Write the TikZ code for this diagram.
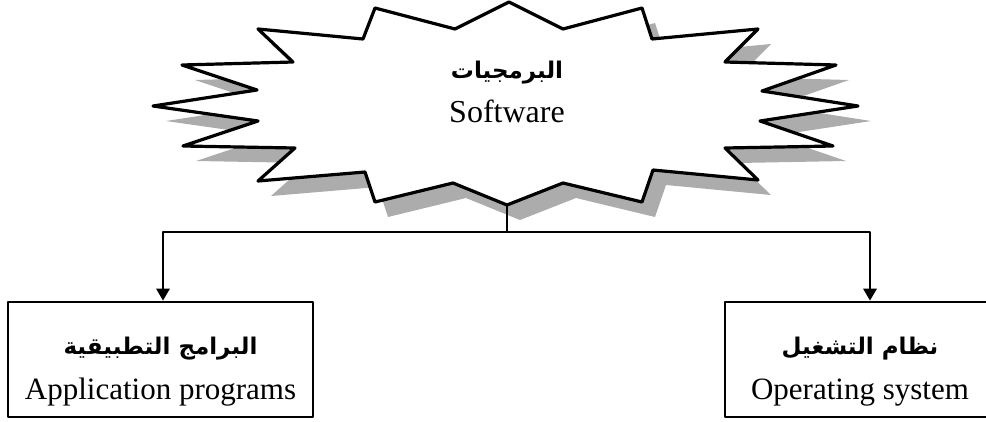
\documentclass[tikz,border=0pt]{standalone}
\usepackage{fontspec}
\setmainfont{Liberation Serif}
\newfontfamily\arabicfont[Script=Arabic]{DejaVu Sans}
\TeXXeTstate=1
\usetikzlibrary{arrows.meta}
\tikzset{>={Triangle[width=13pt,length=12pt]}}
\tikzset{
  box/.style={draw, line width=2.6pt, minimum height=115pt, align=center, inner sep=4pt,
    font=\fontsize{31}{45}\selectfont},
  link/.style={line width=2.8pt},
}
\newcommand{\artext}[1]{{\arabicfont\bfseries\fontsize{23}{26}\selectfont\beginR #1\endR}}
\newcommand{\softstar}{(509,2) -- (563,29) -- (642,8) -- (652,39) -- (758,29) -- (725,62)
  -- (836,65) -- (762,91) -- (858,106) -- (760,121) -- (833,146) -- (725,148)
  -- (758,180) -- (653,170) -- (642,202) -- (563,183) -- (507,205) -- (453,183)
  -- (375,202) -- (365,172) -- (258,181) -- (295,148) -- (183,146) -- (258,121)
  -- (153,106) -- (257,90) -- (182,65) -- (293,62) -- (258,29) -- (363,39)
  -- (375,8) -- (455,29) -- cycle}

\begin{document}
\begin{tikzpicture}[x=1pt, y=-1pt, line join=round]
    \useasboundingbox (0,0) rectangle (986,421);
    \clip (0,0) rectangle (986,421);

    % star with its shadow
    \fill[gray!65, shift={(13,15)}] \softstar;
    \draw[line width=3.2pt, fill=white] \softstar;
    \node[align=center, font=\fontsize{32}{44}\selectfont] (soft) at (507,92) {\artext{البرمجيات}\\Software};

    \node[box, minimum width=305pt] (app) at (160.5,359.5) {\rule{0pt}{42pt}\artext{البرامج التطبيقية}\\Application programs};
    \node[box, minimum width=270pt] (os) at (860,359.5) {\rule{0pt}{42pt}\artext{نظام التشغيل}\\Operating system};

    \coordinate (softtip) at (507,205);
    \coordinate (split) at (507,232);
    \draw[link] (softtip) -- (split);
    \draw[link, ->] (split) -| ([xshift=2.5pt]app.north);
    \draw[link, ->] (split) -| ([xshift=10pt]os.north);
\end{tikzpicture}
\end{document}
